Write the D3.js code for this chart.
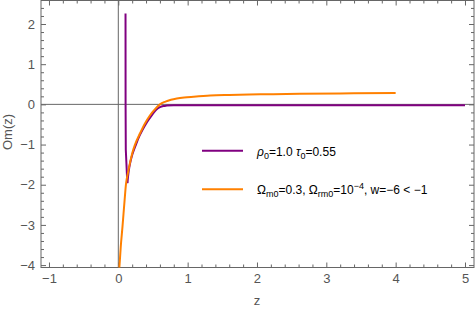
<!DOCTYPE html>
<html><head><meta charset="utf-8">
<script src="https://cdn.jsdelivr.net/npm/d3@7"></script>
<style>body{margin:0;background:#fff} svg{display:block}</style>
</head><body>
<svg id="c" width="475" height="311"></svg>
<script>
// ---- data ----
const xTicks = [-1, 0, 1, 2, 3, 4, 5];
const yTicks = [-4, -3, -2, -1, 0, 1, 2];
const xLabel = "z";
const yLabel = "Om(z)";

// orange series: Ωm0=0.3, Ωrm0=1e-4, w=-6
const orangeZ = [0.004, 0.0145, 0.035, 0.06, 0.09, 0.111, 0.14, 0.169, 0.2, 0.241, 0.314, 0.386, 0.458, 0.53, 0.6, 0.68, 0.76, 0.844, 0.95, 1.084, 1.325, 1.6, 2.05, 2.62, 3.2, 4.0];
const orangeV = [-4.3, -4.08, -3.55, -3.05, -2.4, -1.98, -1.7, -1.45, -1.22, -1.0, -0.72, -0.47, -0.27, -0.12, 0.0, 0.07, 0.115, 0.145, 0.17, 0.19, 0.22, 0.235, 0.25, 0.262, 0.273, 0.285];

// purple series: ρ0=1.0, τ0=0.55 (spike, then rising branch)
const purpleSpikeZ = [0.104, 0.105, 0.108, 0.13];
const purpleSpikeV = [2.26, 0.0, -1.13, -1.96];
const purpleRiseZ = [0.13, 0.15, 0.175, 0.2, 0.25, 0.3, 0.35, 0.4, 0.45, 0.5, 0.55, 0.6, 0.65, 0.7, 0.8, 1.0, 2.0, 3.0, 4.0, 5.0];
const purpleRiseV = [-1.96, -1.66, -1.43, -1.26, -1.02, -0.8, -0.63, -0.48, -0.35, -0.23, -0.13, -0.07, -0.04, -0.03, -0.022, -0.02, -0.02, -0.02, -0.02, -0.02];

// ---- layout ----
const svg = d3.select("#c");
const L = 41, R = 474, T = 0.5, B = 267.5;
const x = d3.scaleLinear().domain([-1.115, 5.13]).range([L, R]);
const y = d3.scaleLinear().domain([-4.06, 2.585]).range([B, T]);
const frameCol = "#666";
const labCol = "#555";
const font = "'Liberation Sans', Arial, sans-serif";
const purple = "rgb(128,0,128)", orange = "rgb(255,128,0)";

const minorX = d3.range(-1.0, 5.01, 0.2).map(v => +v.toFixed(2)).filter(v => !xTicks.some(t => Math.abs(t - v) < 1e-6));
const minorY = d3.range(-4.0, 2.41, 0.2).map(v => +v.toFixed(2)).filter(v => !yTicks.some(t => Math.abs(t - v) < 1e-6));
const fmt = d => d < 0 ? "\u2212" + Math.abs(d) : d;

function styleAxis(g) {
  g.select(".domain").remove();
  g.selectAll(".tick line").attr("stroke", frameCol);
  g.selectAll(".tick text").attr("fill", labCol).style("font-family", font).style("font-size", "13px");
}

svg.append("g").attr("transform", `translate(0,${B})`)
  .call(d3.axisBottom(x).tickValues(xTicks).tickSize(-5).tickPadding(6).tickFormat(fmt)).call(styleAxis);
svg.append("g").attr("transform", `translate(0,${B})`)
  .call(d3.axisBottom(x).tickValues(minorX).tickSize(-3).tickFormat("")).call(styleAxis);
svg.append("g").attr("transform", `translate(0,${T})`)
  .call(d3.axisTop(x).tickValues(xTicks).tickSize(-5).tickFormat("")).call(styleAxis);
svg.append("g").attr("transform", `translate(0,${T})`)
  .call(d3.axisTop(x).tickValues(minorX).tickSize(-3).tickFormat("")).call(styleAxis);
svg.append("g").attr("transform", `translate(${L},0)`)
  .call(d3.axisLeft(y).tickValues(yTicks).tickSize(-5).tickPadding(6).tickFormat(fmt)).call(styleAxis);
svg.append("g").attr("transform", `translate(${L},0)`)
  .call(d3.axisLeft(y).tickValues(minorY).tickSize(-3).tickFormat("")).call(styleAxis);
svg.append("g").attr("transform", `translate(${R},0)`)
  .call(d3.axisRight(y).tickValues(yTicks).tickSize(-5).tickFormat("")).call(styleAxis);
svg.append("g").attr("transform", `translate(${R},0)`)
  .call(d3.axisRight(y).tickValues(minorY).tickSize(-3).tickFormat("")).call(styleAxis);

svg.append("rect").attr("x", L).attr("y", T).attr("width", R - L).attr("height", B - T)
  .attr("fill", "none").attr("stroke", frameCol).attr("stroke-width", 1);

svg.append("line").attr("x1", L).attr("x2", R).attr("y1", y(0)).attr("y2", y(0)).attr("stroke", frameCol).attr("stroke-width", 1);
svg.append("line").attr("x1", x(0)).attr("x2", x(0)).attr("y1", T).attr("y2", B).attr("stroke", frameCol).attr("stroke-width", 1);

svg.append("clipPath").attr("id", "clip").append("rect").attr("x", L).attr("y", T).attr("width", R - L).attr("height", B - T);

const pts = (zs, vs) => zs.map((z, i) => [z, vs[i]]);
const lineLin = d3.line().x(d => x(d[0])).y(d => y(d[1])).curve(d3.curveLinear);
const lineMono = d3.line().x(d => x(d[0])).y(d => y(d[1])).curve(d3.curveMonotoneX);

// purple first (underneath)
svg.append("path").datum(pts(purpleSpikeZ, purpleSpikeV)).attr("clip-path", "url(#clip)")
  .attr("d", lineLin).attr("fill", "none").attr("stroke", purple).attr("stroke-width", 2).attr("stroke-linejoin", "round");
svg.append("path").datum(pts(purpleRiseZ, purpleRiseV)).attr("clip-path", "url(#clip)")
  .attr("d", lineMono).attr("fill", "none").attr("stroke", purple).attr("stroke-width", 2).attr("stroke-linejoin", "round");

svg.append("path").datum(pts(orangeZ, orangeV)).attr("clip-path", "url(#clip)")
  .attr("d", lineMono).attr("fill", "none").attr("stroke", orange).attr("stroke-width", 2);

svg.append("text").attr("x", x(2)).attr("y", 305).attr("text-anchor", "middle")
  .attr("fill", labCol).style("font-family", font).style("font-size", "13px").text(xLabel);
svg.append("text").attr("transform", `translate(12,${132}) rotate(-90)`).attr("text-anchor", "middle")
  .attr("fill", labCol).style("font-family", font).style("font-size", "13px").text(yLabel);

const leg = svg.append("g").style("font-family", font).style("font-size", "12px").attr("fill", "#000");
leg.append("line").attr("x1", 202).attr("x2", 243).attr("y1", 150.7).attr("y2", 150.7).attr("stroke", purple).attr("stroke-width", 2);
leg.append("line").attr("x1", 202).attr("x2", 243).attr("y1", 189.3).attr("y2", 189.3).attr("stroke", orange).attr("stroke-width", 2);

const t1 = leg.append("text").attr("x", 257).attr("y", 155.5);
t1.append("tspan").style("font-style", "italic").text("\u03C1");
t1.append("tspan").attr("dy", 3).style("font-size", "9px").text("0");
t1.append("tspan").attr("dy", -3).text("=1.0 ");
t1.append("tspan").style("font-style", "italic").text("\u03C4");
t1.append("tspan").attr("dy", 3).style("font-size", "9px").text("0");
t1.append("tspan").attr("dy", -3).text("=0.55");

const t2 = leg.append("text").attr("x", 257).attr("y", 194);
t2.append("tspan").text("\u03A9");
t2.append("tspan").attr("dy", 3).style("font-size", "9px").text("m0");
t2.append("tspan").attr("dy", -3).text("=0.3, \u03A9");
t2.append("tspan").attr("dy", 3).style("font-size", "9px").text("rm0");
t2.append("tspan").attr("dy", -3).text("=10");
t2.append("tspan").attr("dy", -5).style("font-size", "9px").text("\u22124");
t2.append("tspan").attr("dy", 5).text(", w=\u22126 < \u22121");
</script>
</body></html>
